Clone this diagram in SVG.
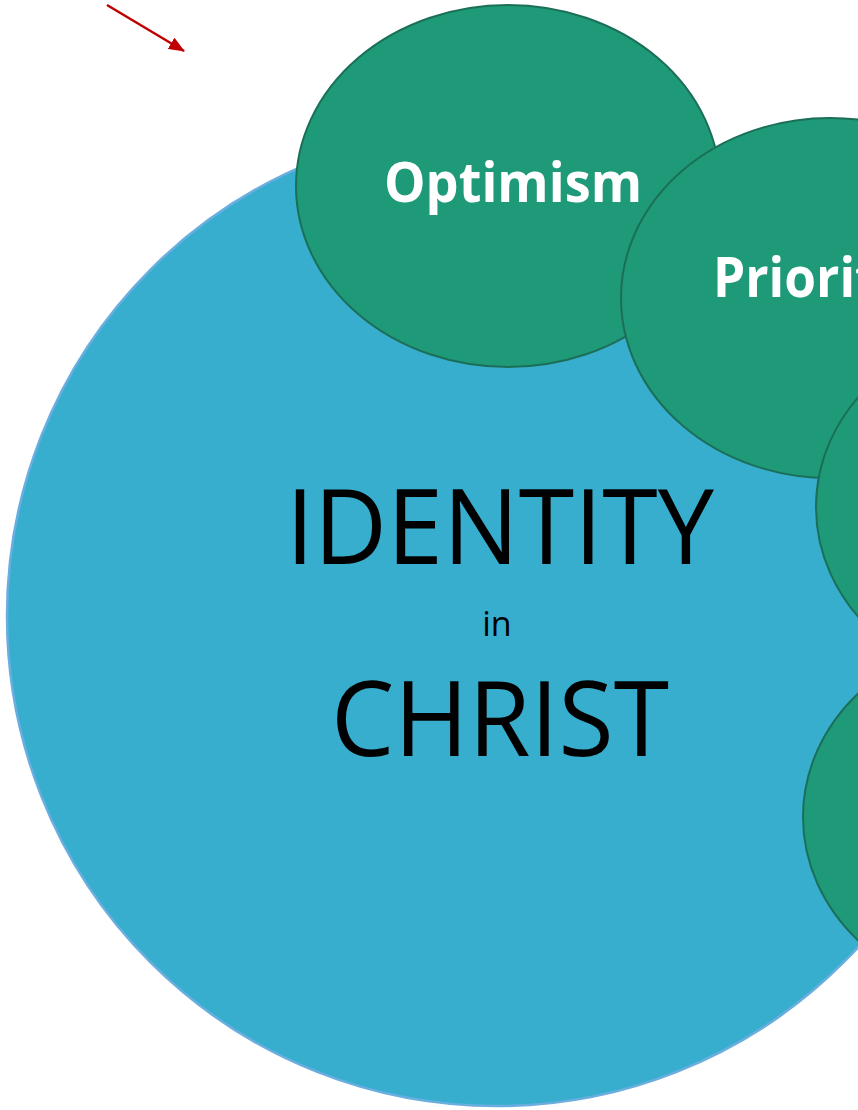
<svg xmlns="http://www.w3.org/2000/svg" width="858" height="1110" viewBox="0 0 858 1110">
  <defs>
    <style>
      .bubble { fill: #1F9A78; stroke: #1B6F58; stroke-width: 2; }
      .core { fill: #38AECE; stroke: #6AAEE0; stroke-width: 2.5; }
      .lbl { font-family: "Open Sans", "Liberation Sans", sans-serif; font-weight: bold; fill: #FFFFFF; font-size: 56px; }
      .big { font-family: "Open Sans", "Liberation Sans", sans-serif; fill: #000000; font-size: 104px; text-anchor: middle; }
      .small { font-family: "Open Sans", "Liberation Sans", sans-serif; fill: #000000; font-size: 34px; text-anchor: middle; }
    </style>
    <marker id="ah" markerWidth="16" markerHeight="13" refX="15" refY="6.5" orient="auto" markerUnits="userSpaceOnUse" viewBox="0 0 16 13">
      <path d="M0,0 L16,6.5 L0,13 z" fill="#C00000"/>
    </marker>
  </defs>
  <rect width="858" height="1110" fill="#FFFFFF"/>
  <g id="identity">
    <circle class="core" cx="497" cy="616" r="490"/>
    <text class="big" x="500" y="564" textLength="428" lengthAdjust="spacingAndGlyphs">IDENTITY</text>
    <text class="small" x="497" y="636">in</text>
    <text class="big" x="500" y="756" textLength="338" lengthAdjust="spacingAndGlyphs">CHRIST</text>
  </g>
  <g id="optimism">
    <ellipse class="bubble" cx="508" cy="186" rx="212" ry="181"/>
    <text class="lbl" x="384" y="202" textLength="258" lengthAdjust="spacingAndGlyphs">Optimism</text>
  </g>
  <g id="priorities">
    <ellipse class="bubble" cx="830" cy="298" rx="209" ry="180"/>
    <text class="lbl" x="713" y="297" textLength="236" lengthAdjust="spacingAndGlyphs">Priorities</text>
  </g>
  <g id="bubble3">
    <ellipse class="bubble" cx="1022" cy="507" rx="206" ry="181"/>
  </g>
  <g id="bubble4">
    <ellipse class="bubble" cx="1008" cy="817" rx="205" ry="181"/>
  </g>
  <g id="connectors">
    <line x1="107" y1="5" x2="184" y2="51" stroke="#C00000" stroke-width="2.5" marker-end="url(#ah)"/>
  </g>
</svg>
